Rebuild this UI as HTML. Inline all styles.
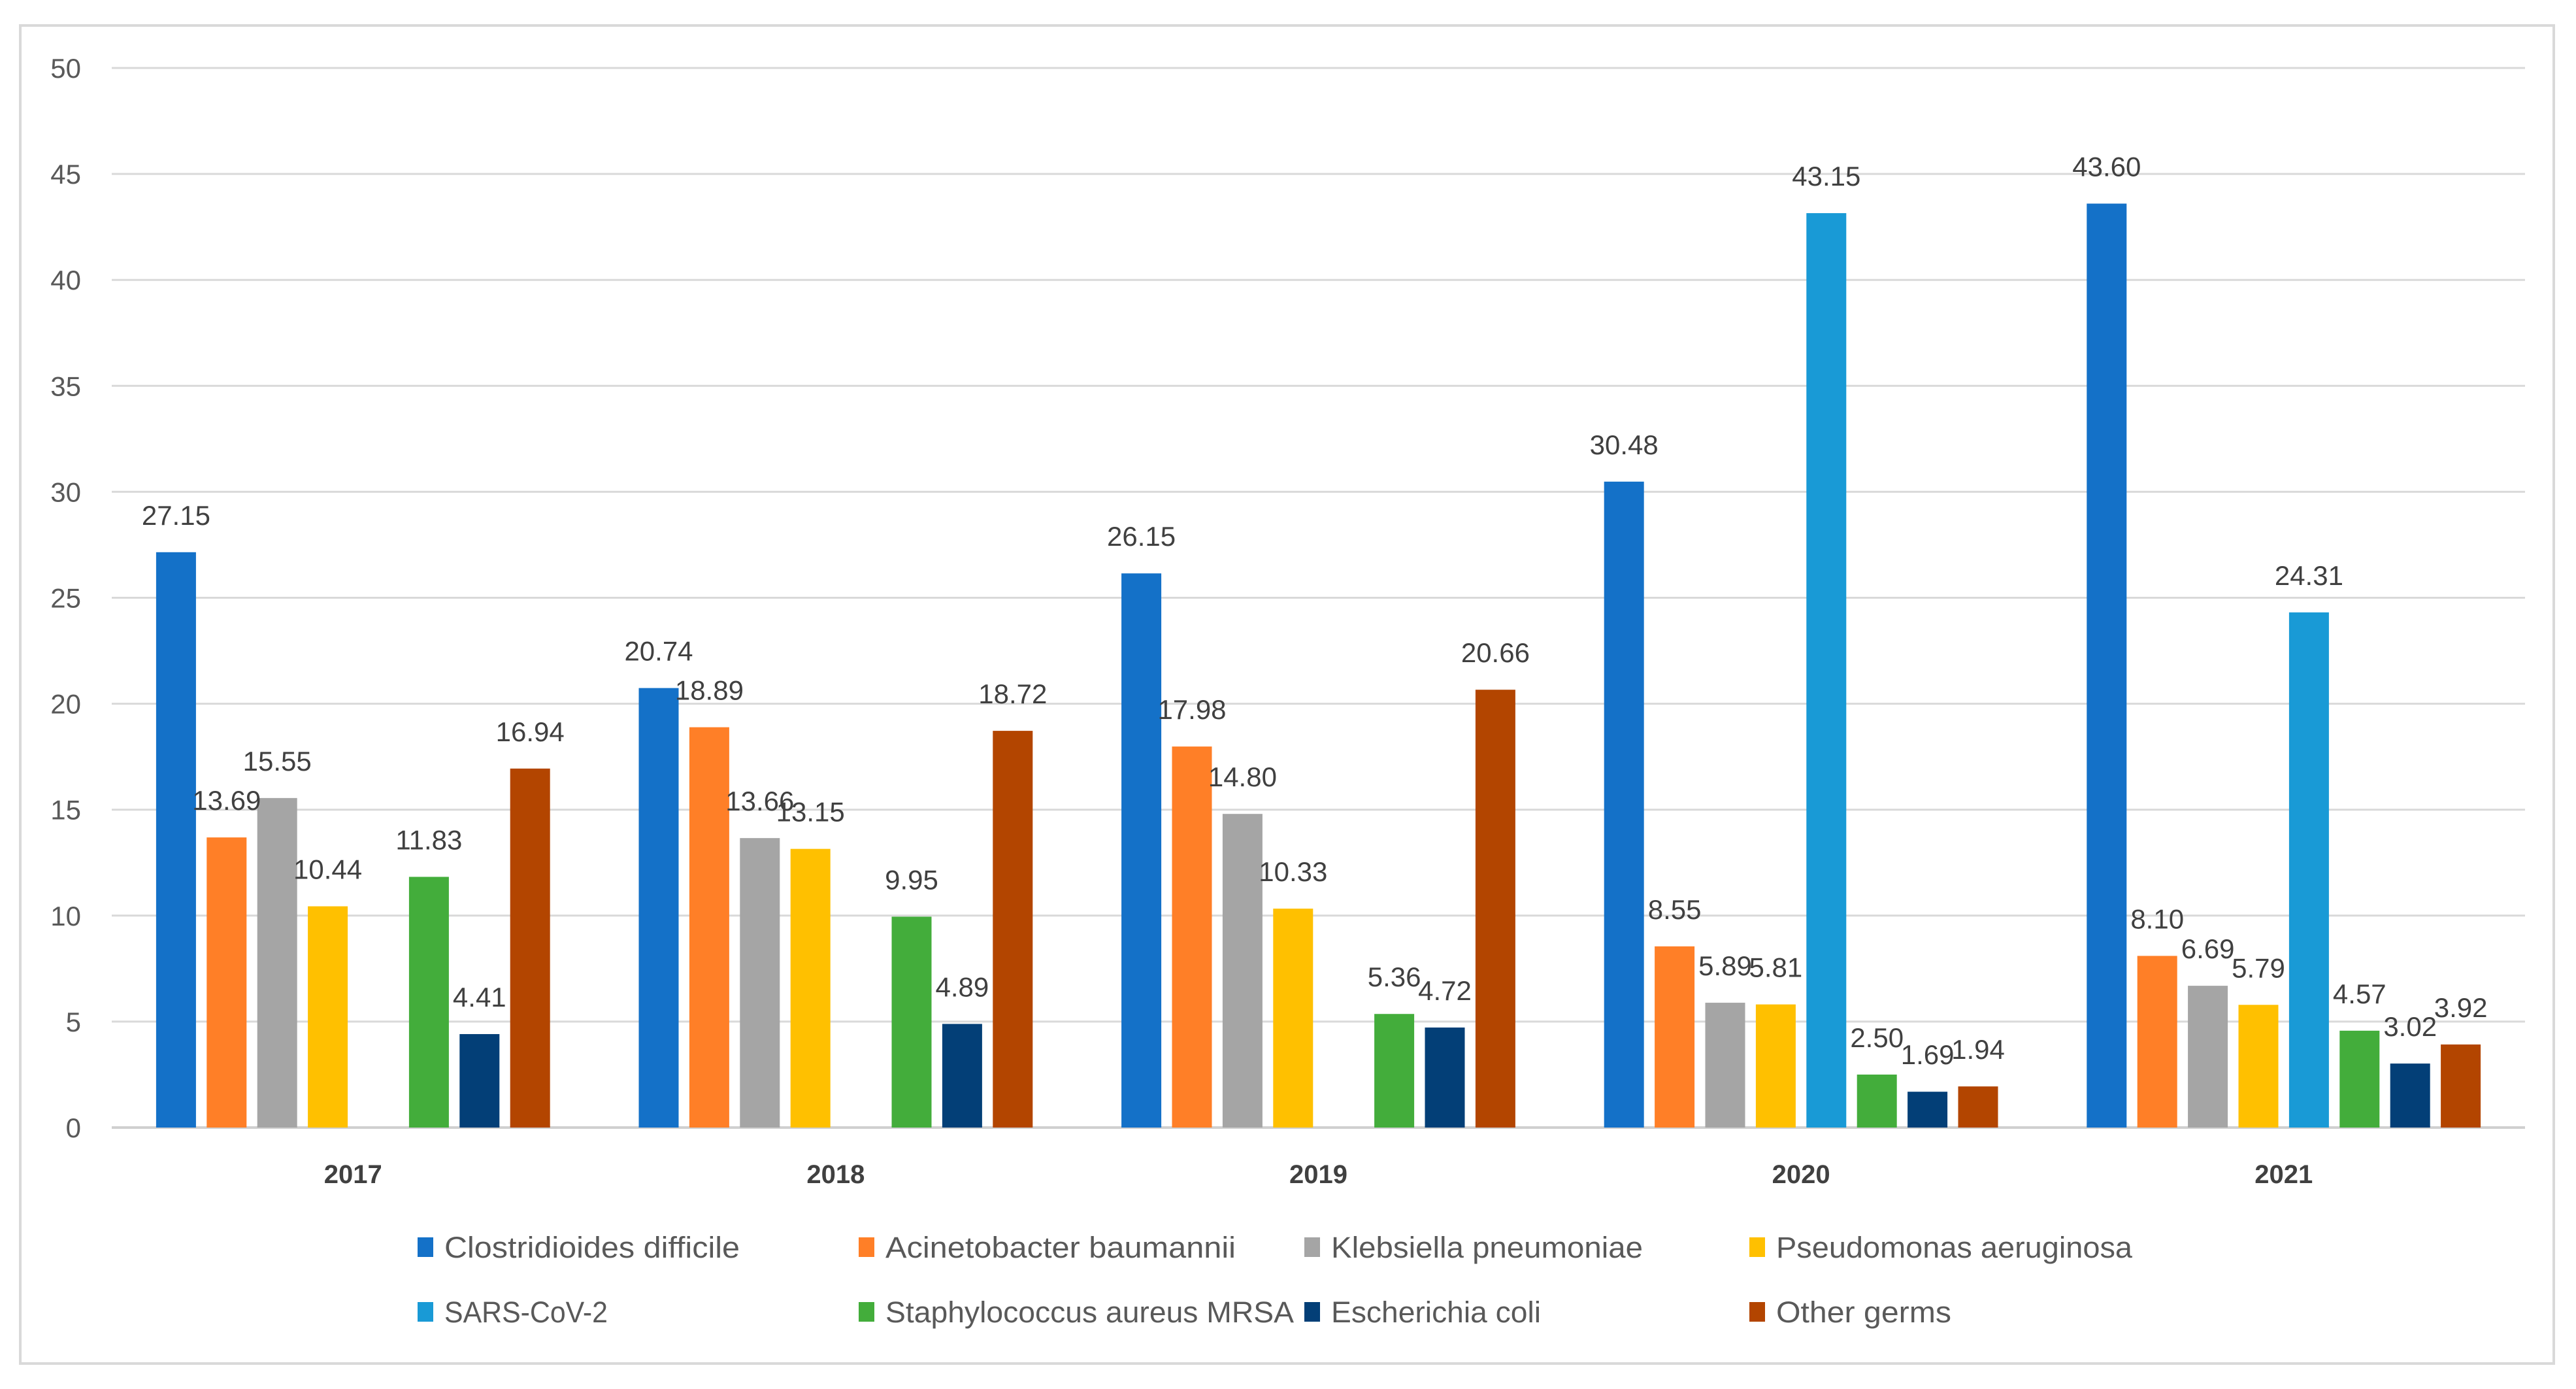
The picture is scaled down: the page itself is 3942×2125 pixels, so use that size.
<!DOCTYPE html>
<html><head><meta charset="utf-8"><style>
html,body{margin:0;padding:0;background:#fff;}
svg{display:block;font-family:"Liberation Sans",sans-serif;}
</style></head><body>
<svg id="chart" width="3942" height="2125" viewBox="0 0 3942 2125" xmlns="http://www.w3.org/2000/svg">
<rect x="31" y="39" width="3877" height="2047" fill="#fff" stroke="#d9d9d9" stroke-width="4"/>
<g id="grid"></g>
<g id="yticks"></g>
<g id="bars"></g>
<g id="labels"></g>
<g id="xticks"></g>
<g id="legend"></g>
</svg>
<script>
const categories = ["2017","2018","2019","2020","2021"];
const seriesNames = ["Clostridioides difficile","Acinetobacter baumannii","Klebsiella pneumoniae","Pseudomonas aeruginosa","SARS-CoV-2","Staphylococcus aureus MRSA","Escherichia coli","Other germs"];
const cdiff = [27.15,20.74,26.15,30.48,43.60];
const acin = [13.69,18.89,17.98,8.55,8.10];
const kleb = [15.55,13.66,14.80,5.89,6.69];
const pseudo = [10.44,13.15,10.33,5.81,5.79];
const sars = [null,null,null,43.15,24.31];
const staph = [11.83,9.95,5.36,2.50,4.57];
const ecoli = [4.41,4.89,4.72,1.69,3.02];
const other = [16.94,18.72,20.66,1.94,3.92];
const yTicks = [0,5,10,15,20,25,30,35,40,45,50];

const series = [cdiff,acin,kleb,pseudo,sars,staph,ecoli,other];
const colors = ["#1471c8","#ff7f27","#a5a5a5","#ffc000","#199ad6","#43ad3b","#033f77","#b34500"];
const NS="http://www.w3.org/2000/svg";
const L=171,R=3864,T=104,B=1725,yMax=50;
const y=v=>B-(v/yMax)*(B-T);
const catW=(R-L)/categories.length, step=77.4, bw=61;
const off=(catW-7*step-bw)/2;
const x=(ci,si)=>L+ci*catW+off+si*step;
function mk(tag,attrs,parent){const e=document.createElementNS(NS,tag);for(const k in attrs)e.setAttribute(k,attrs[k]);parent.appendChild(e);return e;}

const grid=document.getElementById('grid'), yt=document.getElementById('yticks');
yTicks.forEach(t=>{
  const ln=mk('line',{x1:L,x2:R,y1:y(t),y2:y(t),stroke:t===0?'#d0d0d0':'#d9d9d9','stroke-width':t===0?4:3},grid);
  
  
  const tx=mk('text',{x:124,y:y(t)+15,'text-anchor':'end','font-size':42,fill:'#595959'},yt);
  tx.textContent=t;
  
  
});
const bars=document.getElementById('bars'), lab=document.getElementById('labels');
series.forEach((s,si)=>{
  s.forEach((v,ci)=>{
    if(v===null) return;
    const r=mk('rect',{x:x(ci,si),y:y(v),width:bw,height:B-y(v),fill:colors[si]},bars);
    
    
    const t=mk('text',{x:x(ci,si)+bw/2,y:y(v)-42,'text-anchor':'middle','font-size':42,fill:'#404040'},lab);
    t.textContent=v.toFixed(2);
    
    
  });
});
const xt=document.getElementById('xticks');
categories.forEach((c,ci)=>{
  const t=mk('text',{x:L+ci*catW+catW/2,y:1810,'text-anchor':'middle','font-size':40,'font-weight':'bold',fill:'#404040'},xt);
  t.textContent=c;
  
  
});
const leg=document.getElementById('legend');
const legX=[639,1314,1996,2677], legRowY=[1908,2007];
const legW=[452,536,477,545,250,625,321,268];
seriesNames.forEach((n,i)=>{
  const col=i%4,row=Math.floor(i/4);
  const g=mk('g',{},leg);
  
  
  mk('rect',{x:legX[col],y:legRowY[row]-15,width:24,height:30,fill:colors[i]},g);
  const t=mk('text',{x:legX[col]+41,y:legRowY[row]+16,'font-size':45,fill:'#595959',textLength:legW[i],lengthAdjust:'spacingAndGlyphs'},g);
  t.textContent=n;
});
</script>
</body></html>
